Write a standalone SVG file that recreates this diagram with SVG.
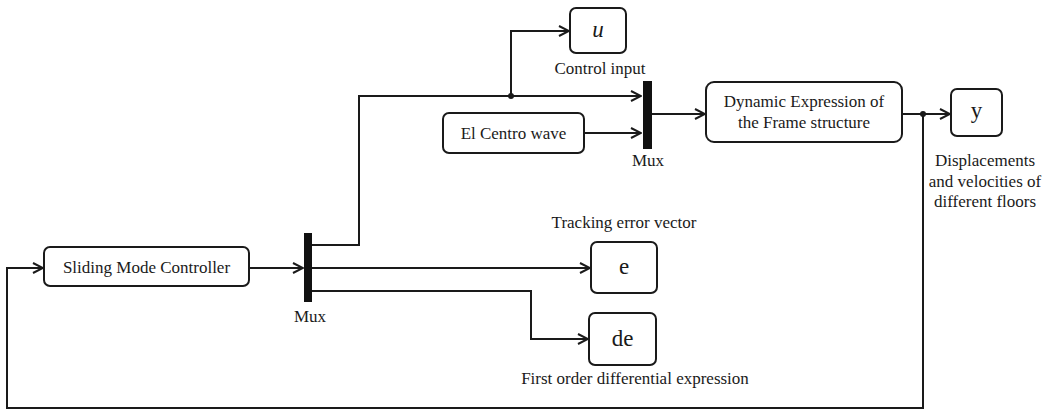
<svg xmlns="http://www.w3.org/2000/svg" width="1049" height="412" viewBox="0 0 1049 412">
  <style>
    .blk { fill: #ffffff; stroke: #1a1a1a; stroke-width: 2; }
    .mux { fill: #111111; stroke: none; }
    .wire { fill: none; stroke: #1a1a1a; stroke-width: 2; }
    .lbl { font-family: "Liberation Serif", "Times New Roman", serif; font-size: 17px; fill: #1a1a1a; text-anchor: middle; }
    .sym { font-family: "Liberation Serif", "Times New Roman", serif; font-size: 23px; fill: #1a1a1a; text-anchor: middle; }
  </style>
  <defs>
    <marker id="arrow" viewBox="0 0 12 12" refX="11" refY="6" markerWidth="12" markerHeight="12" markerUnits="userSpaceOnUse" orient="auto">
      <path d="M1,1 L11,6 L1,11" fill="none" stroke="#1a1a1a" stroke-width="2"/>
    </marker>
  </defs>
  <rect width="1049" height="412" fill="#ffffff"/>

  <g id="connectors">
    <!-- controller into first mux -->
    <path class="wire" d="M249,268 H303" marker-end="url(#arrow)"/>
    <!-- control signal to second mux, branching to u -->
    <path class="wire" d="M312,245 H359 V96 H641" marker-end="url(#arrow)"/>
    <path class="wire" d="M511,96 V31 H569" marker-end="url(#arrow)"/>
    <!-- tracking error -->
    <path class="wire" d="M312,268 H590" marker-end="url(#arrow)"/>
    <!-- error derivative -->
    <path class="wire" d="M312,291 H531 V339 H588" marker-end="url(#arrow)"/>
    <!-- ground motion -->
    <path class="wire" d="M584,133 H641" marker-end="url(#arrow)"/>
    <!-- second mux into structure model -->
    <path class="wire" d="M652,114 H705" marker-end="url(#arrow)"/>
    <!-- structure output -->
    <path class="wire" d="M902,114 H950" marker-end="url(#arrow)"/>
    <!-- feedback loop -->
    <path class="wire" d="M923,114 V408 H7 V268 H43" marker-end="url(#arrow)"/>
    <circle cx="511" cy="96" r="3" fill="#1a1a1a"/>
    <circle cx="923" cy="114" r="3" fill="#1a1a1a"/>
  </g>

  <g id="smc">
    <rect class="blk" x="44" y="247" width="205" height="39" rx="6"/>
    <text class="lbl" x="146.5" y="273">Sliding Mode Controller</text>
  </g>

  <g id="mux1">
    <rect class="mux" x="304" y="233" width="8" height="69"/>
    <text class="lbl" x="310" y="322">Mux</text>
  </g>

  <g id="u-out">
    <rect class="blk" x="570" y="8" width="56" height="45" rx="6"/>
    <text class="sym" x="598" y="37" font-style="italic">u</text>
    <text class="lbl" x="600" y="74">Control input</text>
  </g>

  <g id="elcentro">
    <rect class="blk" x="443" y="113" width="141" height="40" rx="6"/>
    <text class="lbl" x="513.5" y="139">El Centro wave</text>
  </g>

  <g id="mux2">
    <rect class="mux" x="643" y="81" width="9" height="68"/>
    <text class="lbl" x="648" y="166">Mux</text>
  </g>

  <g id="frame">
    <rect class="blk" x="706" y="82" width="196" height="60" rx="8"/>
    <text class="lbl" x="804" y="107">Dynamic Expression of</text>
    <text class="lbl" x="804" y="128">the Frame structure</text>
  </g>

  <g id="y-out">
    <rect class="blk" x="951" y="89" width="51" height="47" rx="6"/>
    <text class="sym" x="976.5" y="118" font-size="25">y</text>
    <text class="lbl" x="985" y="166">Displacements</text>
    <text class="lbl" x="985" y="187">and velocities of</text>
    <text class="lbl" x="985" y="207">different floors</text>
  </g>

  <g id="e-out">
    <text class="lbl" x="624" y="228">Tracking error vector</text>
    <rect class="blk" x="591" y="242" width="66" height="51" rx="6"/>
    <text class="sym" x="624" y="274">e</text>
  </g>

  <g id="de-out">
    <rect class="blk" x="589" y="313" width="67" height="52" rx="6"/>
    <text class="sym" x="622.5" y="346">de</text>
    <text class="lbl" x="635" y="384">First order differential expression</text>
  </g>
</svg>
